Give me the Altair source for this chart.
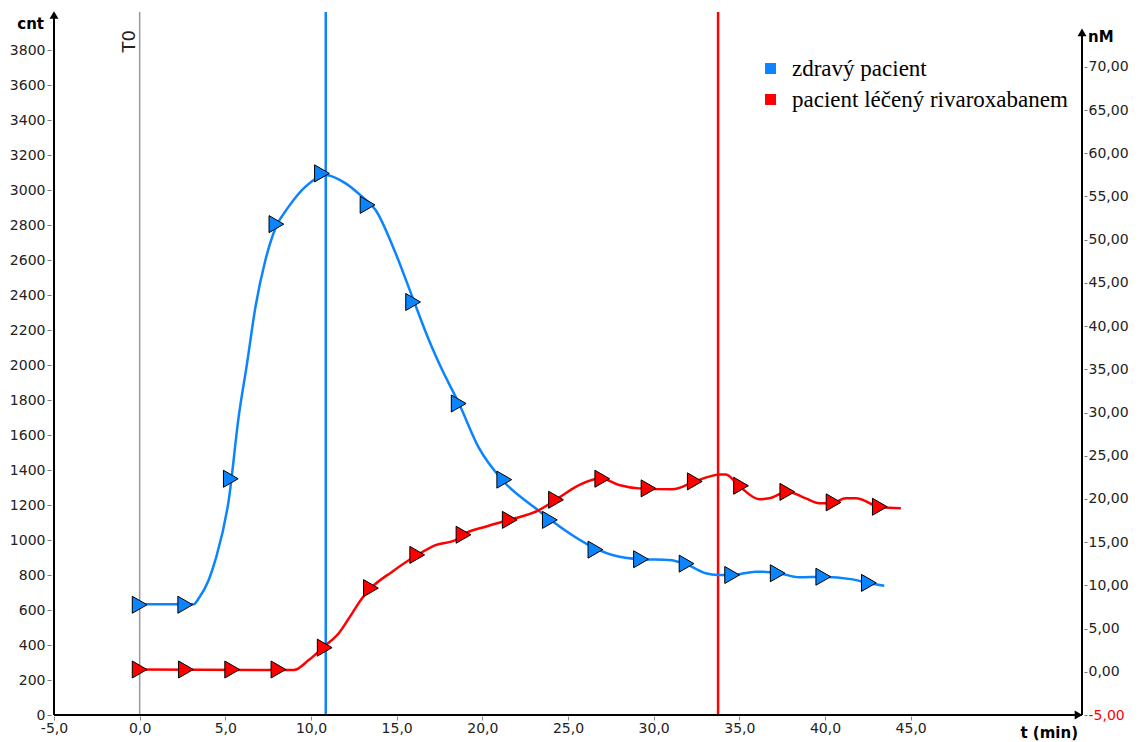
import altair as alt
import pandas as pd

SERIES = ["zdravý pacient", "pacient léčený rivaroxabanem"]
COLORS = ["#0a84ff", "#ff0000"]

# marker points (time in min, cnt)
blue_marker_t = [0.0, 2.66, 5.32, 7.98, 10.64, 13.3, 15.96, 18.62, 21.28, 23.94, 26.6, 29.26, 31.92, 34.58, 37.24, 39.9, 42.56]
blue_marker_v = [630, 630, 1350, 2805, 3095, 2915, 2360, 1780, 1345, 1115, 945, 890, 865, 800, 810, 790, 755]
red_marker_t = [0.0, 2.7, 5.4, 8.1, 10.8, 13.5, 16.2, 18.9, 21.6, 24.3, 27.0, 29.7, 32.4, 35.1, 37.8, 40.5, 43.2]
red_marker_v = [260, 260, 260, 260, 385, 725, 915, 1030, 1115, 1230, 1350, 1295, 1335, 1310, 1275, 1215, 1190]

# curve points
blue_line_t = [0.0, 3.15, 3.45, 4.03, 4.42, 5.2, 5.78, 6.27, 6.76, 7.34, 7.93, 8.7, 9.68, 10.85, 12.02, 12.98,
               13.77, 14.94, 15.91, 16.88, 17.66, 18.63, 19.8, 21.16, 23.11, 23.99, 26.03, 27.59, 29.25, 30.9,
               31.87, 33.04, 33.72, 34.6, 35.96, 37.32, 38.49, 39.85, 41.61, 42.58, 43.46]
blue_line_v = [633, 633, 667, 771, 886, 1229, 1705, 2011, 2333, 2600, 2783, 2905, 3019, 3086, 3038, 2962,
               2886, 2638, 2390, 2143, 1971, 1781, 1526, 1343, 1181, 1114, 981, 914, 890, 886,
               863, 810, 800, 800, 819, 810, 787, 790, 775, 753, 739]
red_line_t = [0.0, 9.0, 9.87, 10.75, 11.62, 12.4, 12.98, 13.48, 14.74, 16.2, 17.27, 18.44, 18.83, 20.19, 21.55,
              23.31, 24.28, 25.64, 26.91, 27.98, 29.15, 31.09, 32.36, 33.24, 33.82, 34.21, 34.99, 36.16, 36.74,
              37.81, 38.88, 39.66, 40.44, 41.22, 41.8, 43.16, 44.43]
red_line_v = [260, 257, 314, 390, 467, 581, 667, 724, 819, 914, 971, 1000, 1029, 1076, 1114,
              1171, 1229, 1314, 1353, 1314, 1295, 1290, 1333, 1362, 1375, 1375, 1309, 1233, 1238,
              1276, 1238, 1210, 1213, 1238, 1238, 1190, 1181]

vline_t = [10.86, 33.76]
vline_colors = ["#0a84ff", "#ff0000"]

x_ticks = [-5, 0, 5, 10, 15, 20, 25, 30, 35, 40, 45]
left_ticks = list(range(0, 3801, 200))
right_ticks = list(range(-5, 71, 5))

FONT = "DejaVu Sans"
MINUS = "\u2212"

x_scale = alt.Scale(domain=[-5, 55], nice=False, zero=False)
y_scale = alt.Scale(domain=[0, 4000], nice=False, zero=False)
y2_scale = alt.Scale(domain=[-5, 76], nice=False, zero=False)
color_scale = alt.Scale(domain=SERIES, range=COLORS)

x_axis = alt.Axis(values=x_ticks, labelExpr="replace(replace(format(datum.value, '.1f'), '.', ','), '" + MINUS + "', '-')",
                  domain=False, grid=False, tickSize=4, tickColor="#888", offset=1, labelPadding=1,
                  labelFont=FONT, labelFontSize=14, labelColor="#222", labelFlush=False, labelOverlap=False, title=None)
y_axis = alt.Axis(values=left_ticks, format="d", domain=False, grid=False, tickSize=4, tickColor="#777", offset=3,
                  labelPadding=2, labelFont=FONT, labelFontSize=14, labelColor="#222", labelFlush=False,
                  labelOverlap=False, title=None)
y2_axis = alt.Axis(orient="right", values=right_ticks,
                   labelExpr="replace(replace(format(datum.value, '.2f'), '.', ','), '" + MINUS + "', '-')",
                   labelColor={"condition": {"test": "datum.value == -5", "value": "#ff0000"}, "value": "#222"},
                   domain=False, grid=False, tickSize=3, tickColor="#777", offset=2, labelPadding=1,
                   labelFont=FONT, labelFontSize=14, labelFlush=False, labelOverlap=False, title=None)

lines_df = pd.DataFrame({
    "t": blue_line_t + red_line_t,
    "v": blue_line_v + red_line_v,
    "col": [COLORS[0]] * len(blue_line_t) + [COLORS[1]] * len(red_line_t),
})
markers_df = pd.DataFrame({
    "t": blue_marker_t + red_marker_t,
    "v": blue_marker_v + red_marker_v,
    "s": [SERIES[0]] * len(blue_marker_t) + [SERIES[1]] * len(red_marker_t),
})
vl_df = pd.DataFrame({"t": vline_t, "c": vline_colors, "y0": [0, 0], "y1": [4017, 4017]})
t0_df = pd.DataFrame({"t": [0], "y0": [0], "y1": [4017], "label": ["T0"], "ly": [3850]})

legend = alt.Legend(orient="none", legendX=705, legendY=42, title=None, symbolType="square", symbolSize=120,
                    symbolStrokeWidth=0, symbolOpacity=1, labelFont="Liberation Serif", labelFontSize=23,
                    labelColor="black", labelOffset=10, labelLimit=500, rowPadding=7, padding=0)

X = lambda f: alt.X(f, scale=x_scale, axis=x_axis)
Y = lambda f: alt.Y(f, scale=y_scale, axis=y_axis)
Y2 = lambda f: alt.Y(f, scale=y2_scale, axis=y2_axis)

t0_rule = alt.Chart(t0_df).mark_rule(color="#999", strokeWidth=1.5).encode(x=X("t:Q"), y=Y("y0:Q"), y2="y1:Q")
t0_text = alt.Chart(t0_df).mark_text(angle=270, align="center", baseline="bottom", font=FONT, fontSize=18,
                                     color="#222", dy=-1).encode(x=X("t:Q"), y=Y("ly:Q"), text="label:N")
vlines = alt.Chart(vl_df).mark_rule(strokeWidth=2.5).encode(
    x=X("t:Q"), y=Y("y0:Q"), y2="y1:Q", stroke=alt.Stroke("c:N", scale=None, legend=None))

lines = alt.Chart(lines_df).mark_line(interpolate="monotone", strokeWidth=2.5).encode(
    x=X("t:Q"), y=Y("v:Q"),
    stroke=alt.Stroke("col:N", scale=None, legend=None),
)
markers = alt.Chart(markers_df).mark_point(shape="triangle-right", filled=True, size=290, stroke="black",
                                           strokeWidth=1, opacity=1).encode(
    x=X("t:Q"), y=Y("v:Q"), fill=alt.Fill("s:N", scale=color_scale, legend=legend))

axes_df = pd.DataFrame({"x0": [-5, -5], "x1": [-5, 55], "y0": [0, 0], "y1": [4000, 0]})
axis_lines = alt.Chart(axes_df).mark_rule(color="black", strokeWidth=2).encode(
    x=X("x0:Q"), x2="x1:Q", y=Y("y0:Q"), y2="y1:Q")
arrows_up = alt.Chart(pd.DataFrame({"t": [-5], "v": [4000]})).mark_point(
    shape="triangle-up", filled=True, color="black", size=80, opacity=1).encode(x=X("t:Q"), y=Y("v:Q"))
arrows_rt = alt.Chart(pd.DataFrame({"t": [54.8], "v": [0]})).mark_point(
    shape="triangle-right", filled=True, color="black", size=80, opacity=1).encode(x=X("t:Q"), y=Y("v:Q"))

lbl_df = pd.DataFrame({"t": [-5], "v": [4000], "label": ["cnt"]})
cnt_text = alt.Chart(lbl_df).mark_text(align="right", baseline="middle", font=FONT, fontSize=15, fontWeight="bold",
                                       color="black", dx=-10, dy=9).encode(x=X("t:Q"), y=Y("v:Q"), text="label:N")
tl_df = pd.DataFrame({"t": [55], "v": [0], "label": ["t (min)"]})
t_text = alt.Chart(tl_df).mark_text(align="right", baseline="middle", font=FONT, fontSize=15, fontWeight="bold",
                                    color="black", dx=-4, dy=18).encode(x=X("t:Q"), y=Y("v:Q"), text="label:N")

left = alt.layer(t0_rule, t0_text, vlines, lines, markers, axis_lines, arrows_up, arrows_rt, cnt_text, t_text)

r_df = pd.DataFrame({"t": [55], "v0": [-5], "v1": [74], "label": ["nM"]})
right_line = alt.Chart(r_df).mark_rule(color="black", strokeWidth=2).encode(
    x=X("t:Q"), y=Y2("v0:Q"), y2="v1:Q")
right_arrow = alt.Chart(r_df).mark_point(shape="triangle-up", filled=True, color="black", size=80, opacity=1).encode(
    x=X("t:Q"), y=Y2("v1:Q"))
nm_text = alt.Chart(r_df).mark_text(align="left", baseline="middle", font=FONT, fontSize=15, fontWeight="bold",
                                    color="black", dx=6, dy=5).encode(
    x=X("t:Q"), y=Y2("v1:Q"), text="label:N")
right = alt.layer(right_line, right_arrow, nm_text)

chart = alt.layer(left, right).resolve_scale(y="independent").properties(
    width=1028, height=700,
    padding={"left": 46, "top": 7, "right": 50, "bottom": 27},
    autosize=alt.AutoSizeParams(type="none"),
    background="white",
).configure_view(stroke=None)

chart.save("out.html", embed_options={"renderer": "svg", "actions": False})
